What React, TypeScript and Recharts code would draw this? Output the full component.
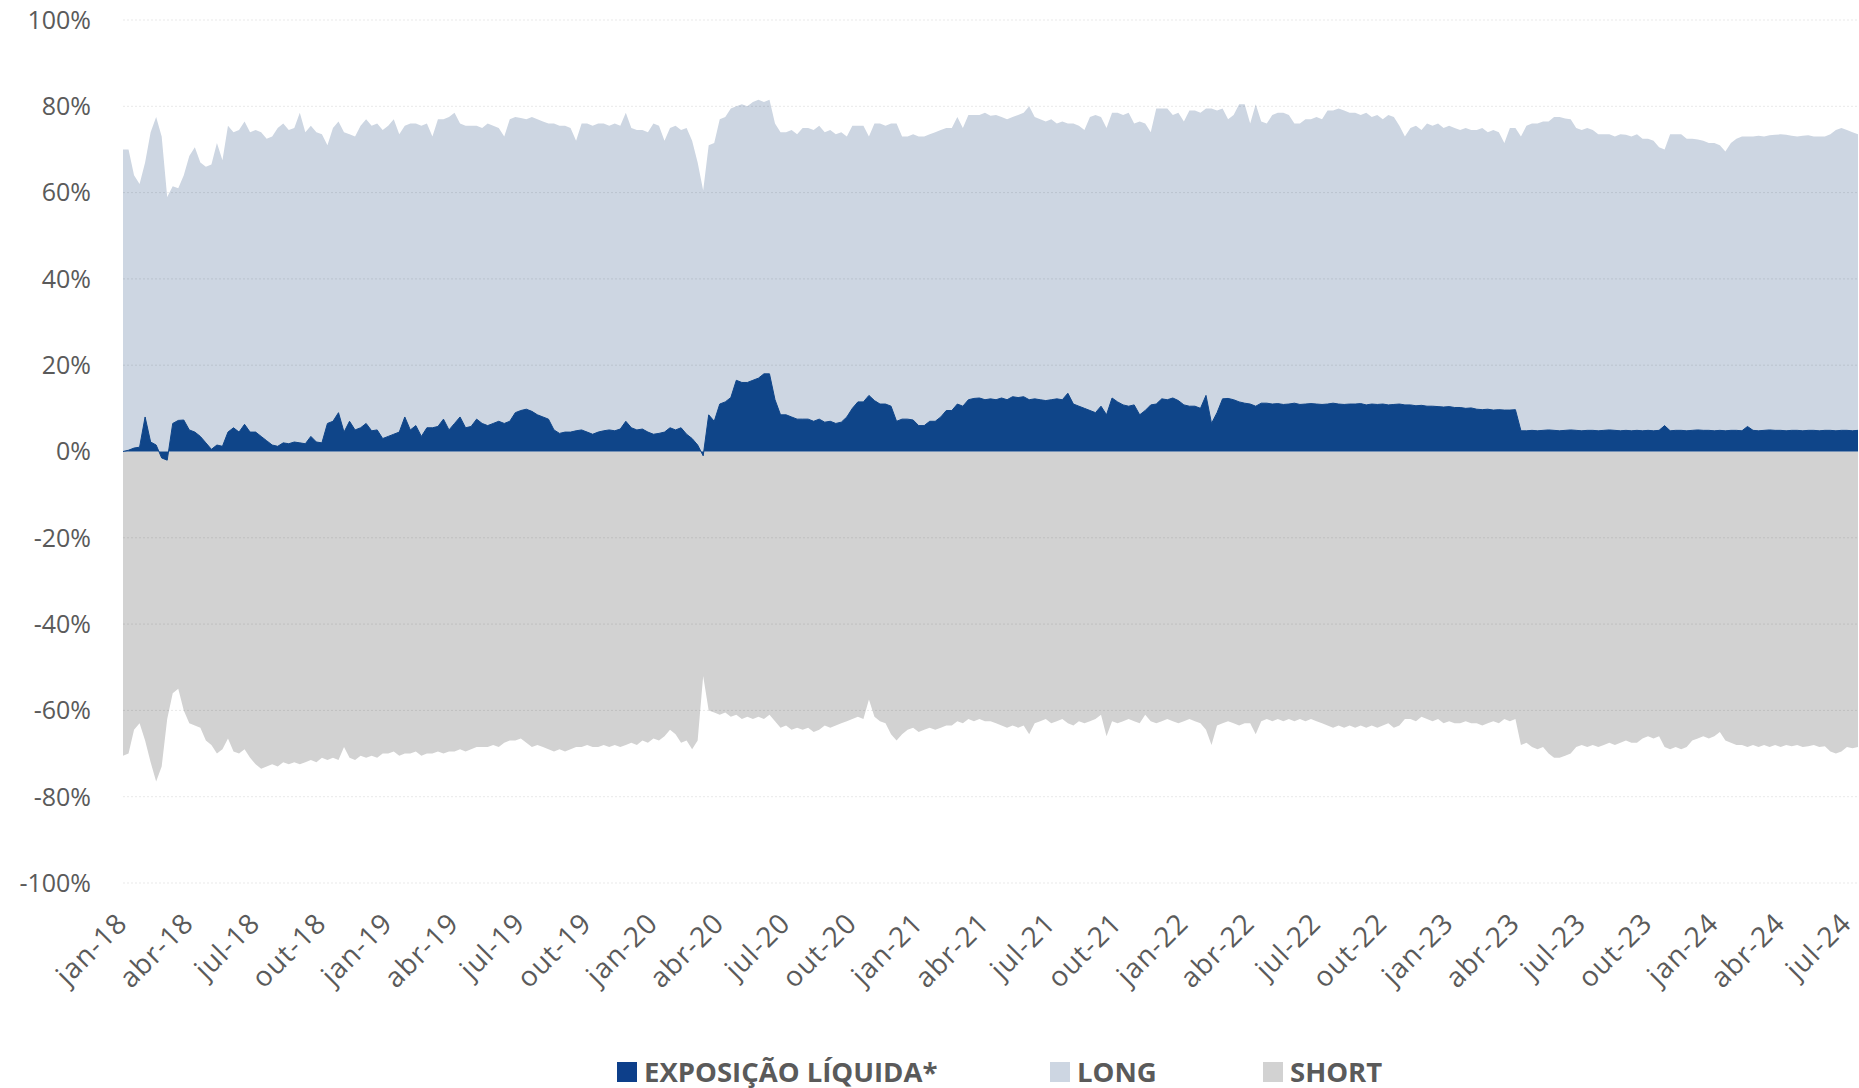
import React from 'react';
import { AreaChart, Area, XAxis, YAxis, ReferenceLine, Legend } from 'recharts';

// Category structure: months x 4 sub-periods (weekly readings)
const MONTHS = ['jan', 'fev', 'mar', 'abr', 'mai', 'jun', 'jul', 'ago', 'set', 'out', 'nov', 'dez'];
const YEARS = ['18', '19', '20', '21', '22', '23', '24'];
const POINTS_PER_MONTH = 4;

const TICK_LABELS = [
  'jan-18', 'abr-18', 'jul-18', 'out-18',
  'jan-19', 'abr-19', 'jul-19', 'out-19',
  'jan-20', 'abr-20', 'jul-20', 'out-20',
  'jan-21', 'abr-21', 'jul-21', 'out-21',
  'jan-22', 'abr-22', 'jul-22', 'out-22',
  'jan-23', 'abr-23', 'jul-23', 'out-23',
  'jan-24', 'abr-24', 'jul-24',
];
const Y_TICKS = [-100, -80, -60, -40, -20, 0, 20, 40, 60, 80, 100];

// LONG (%)
const long2018 = [
  70, 70, 64, 62, 67, 74, 77.5, 73, 59, 61.5, 61, 64,
  68.5, 70.5, 67, 66, 66.5, 71.5, 67.5, 75.5, 74, 74.5, 76.5, 74,
  74.5, 74, 72.5, 73, 75, 76, 74.5, 75, 78.5, 74, 75.5, 74,
  73.5, 71, 75, 76.5, 74, 73.5, 73, 75.5, 77, 75.5, 76, 74.5,
];
const long2019 = [
  75.5, 77, 73.5, 75.5, 76, 76, 75.5, 76, 73, 77, 77, 77.5,
  78.5, 76, 75.5, 75.5, 75.5, 75, 76, 75.5, 75, 73, 77, 77.5,
  77.3, 77, 77.5, 77, 76.5, 76, 76, 75.5, 75.5, 75, 72, 76,
  76, 75.5, 76, 76, 75.5, 76, 75.5, 78.5, 75, 74.5, 74.5, 74,
];
const long2020 = [
  76, 75.5, 72, 75, 75.5, 74.5, 75, 72, 67, 60.5, 71, 71.5,
  77, 77.5, 79.5, 80, 80.5, 80, 81, 81.5, 81, 81.5, 76, 74,
  74, 74.5, 73.5, 75, 75, 74.5, 75.5, 74, 74.5, 73.5, 74, 73,
  75.5, 75.5, 75.5, 73, 76, 76, 75.5, 76, 76, 73, 73, 73.5,
];
const long2021 = [
  73, 73, 73.5, 74, 74.5, 75, 75, 77.5, 75, 78, 78, 78,
  78.5, 77.8, 78, 77.5, 77, 77.5, 78, 78.5, 80, 77.5, 77, 76.5,
  77, 76, 76.5, 76, 76, 75.5, 74.5, 77.5, 78, 77.5, 75, 78.5,
  78.5, 78, 78.5, 76, 76.5, 76, 74, 79.5, 79.5, 79.5, 78, 78.5,
];
const long2022 = [
  76.5, 79, 79, 78.5, 79.5, 79.5, 79, 79.5, 77, 78, 80.5, 80.5,
  76, 80.5, 76.5, 76, 78, 78.5, 78.5, 78, 76, 76, 77, 77,
  77.5, 77, 79, 79, 79.5, 79, 78.5, 78.5, 78, 78.5, 77.5, 78,
  77, 78, 77.5, 75.5, 73, 75, 75.5, 74.5, 76, 75.5, 76, 75,
];
const long2023 = [
  75.5, 75, 74.5, 75, 74.5, 74.5, 75, 74, 74.5, 74, 71.5, 75,
  75, 73, 75.5, 76, 76, 76.5, 76.5, 77.5, 77.5, 77.2, 77, 75,
  74.5, 75, 74.5, 73.5, 73.5, 73.5, 73, 73.5, 73.4, 73, 73.5, 72.5,
  72.5, 72, 70.5, 70, 73.5, 73.5, 73.5, 72.5, 72.5, 72.3, 72, 71.5,
];
const long2024 = [
  71.5, 71, 69.5, 71.5, 72.5, 73, 73, 73, 73.2, 73, 73.3, 73.4,
  73.5, 73.4, 73.2, 73, 73.2, 73.3, 73, 73, 73, 73.5, 74.5, 75,
  74.5, 74, 73.5,
];

// SHORT (%)
const short2018 = [
  -70.5, -70, -64.5, -63, -67, -72, -76.5, -73, -62, -56, -55, -60,
  -63, -63.5, -64, -67, -68, -70, -69, -66.5, -69.5, -70, -69, -71,
  -72.5, -73.5, -73, -72.5, -73, -72, -72.5, -72, -72.5, -72, -71.5, -72,
  -71, -71.5, -71, -71.5, -68.5, -71, -71.5, -70.5, -71, -70.5, -71, -70,
];
const short2019 = [
  -70, -69.5, -70.5, -70, -70, -69.5, -70.5, -70, -70, -69.5, -70, -69.5,
  -69.5, -69, -69.5, -69, -68.5, -68.5, -68.5, -68, -68.5, -67.5, -67, -67,
  -66.5, -67.5, -68.5, -68, -68.5, -69, -69.5, -69, -69.5, -69, -68.5, -68.5,
  -68, -68.5, -68.5, -68, -68.5, -68, -68.5, -68, -67.5, -68, -67, -67.5,
];
const short2020 = [
  -66.5, -67, -66, -64.5, -65.5, -67.5, -67, -69, -67, -52, -60, -60.5,
  -61, -60.5, -61.5, -61, -62, -61.5, -62, -61.5, -62, -61, -62.5, -64,
  -63.5, -64.5, -64, -64.5, -64, -65, -64.5, -63.5, -64, -63.5, -63, -62.5,
  -62, -61.5, -62, -57.5, -61.5, -62.5, -63, -65.5, -67, -65.5, -64.5, -64,
];
const short2021 = [
  -65, -64.5, -64, -64.5, -64, -63.5, -63.5, -62.5, -63, -62, -62.5, -62,
  -62.5, -62.5, -63, -63.5, -64, -63.5, -64, -63.5, -65.5, -63, -62.5, -62,
  -63, -62.5, -62, -63, -63.5, -62.5, -63, -62.5, -62, -61, -66, -62.5,
  -63, -62.5, -62, -62.5, -63, -61, -62.5, -63, -62.5, -62, -62.5, -63,
];
const short2022 = [
  -62.5, -62, -62.5, -63, -64.5, -68, -63.5, -63, -62.5, -63, -63.5, -63,
  -63, -65.5, -62.5, -62, -62.5, -62, -62.5, -62, -62.5, -62, -62.5, -62,
  -62.5, -63, -63.5, -64, -63.5, -64, -63.5, -64, -63.5, -64, -63.5, -64,
  -63.5, -63, -64, -63.5, -62, -62, -62.5, -61.5, -62, -62.5, -62, -63,
];
const short2023 = [
  -62.5, -63, -63, -62.5, -63, -63, -63.5, -63, -62.5, -63, -62, -62.5,
  -62, -68, -67.5, -68.5, -69, -68.5, -70, -71, -71, -70.5, -70, -68.5,
  -68, -68.5, -68, -68.5, -68, -67.5, -68, -67.5, -67, -67.5, -67.5, -66.5,
  -66, -66.5, -66, -68.5, -69, -68.5, -69, -68.5, -67, -66.5, -66, -66.5,
];
const short2024 = [
  -66, -65, -67, -67.5, -68, -68, -68.5, -68, -68.5, -68, -68.5, -68,
  -68.5, -68, -68.3, -68, -68.5, -68.3, -68, -68.5, -68.3, -69.5, -70, -69.5,
  -68.5, -68.8, -68.5,
];

// EXPOSIÇÃO LÍQUIDA (%)
const net2018 = [
  0, 0.3, 0.8, 1, 8, 2.2, 1.5, -1.5, -2, 6.5, 7.2, 7.3,
  5, 4.5, 3.5, 2, 0.5, 1.5, 1.2, 4.5, 5.5, 4.5, 6.3, 4.5,
  4.5, 3.5, 2.5, 1.5, 1.2, 2, 1.8, 2.2, 2, 1.8, 3.5, 2.2,
  2, 6.5, 7, 9, 4.5, 7, 5, 5.5, 6.5, 4.8, 5, 3,
];
const net2019 = [
  3.5, 4, 4.5, 8, 5, 6, 3.5, 5.5, 5.5, 5.8, 7.5, 5,
  6.5, 8, 5.5, 5.8, 7.5, 6.5, 6, 6.5, 7, 6.5, 7, 9,
  9.5, 9.8, 9.3, 8.5, 8, 7.5, 5, 4.2, 4.5, 4.5, 4.8, 5,
  4.5, 4, 4.5, 4.8, 5, 4.8, 5.2, 7, 5.5, 5, 5.2, 4.5,
];
const net2020 = [
  4, 4.2, 4.5, 5.5, 5, 5.5, 4, 3, 1.5, -1, 8.5, 7,
  11, 11.5, 12.5, 16.5, 16, 16, 16.5, 17, 18, 18, 12, 8.5,
  8.5, 8, 7.5, 7.5, 7.5, 7, 7.5, 6.8, 7, 6.5, 6.8, 8,
  10, 11.5, 11.5, 13, 11.8, 11, 11, 10.5, 7, 7.5, 7.5, 7.3,
];
const net2021 = [
  6, 6, 7, 7, 8, 9.5, 9.5, 11, 10.5, 12, 12.3, 12.4,
  12, 12.2, 12, 12.4, 12, 12.7, 12.5, 12.7, 12, 12.2, 12, 11.8,
  12, 12.2, 12, 13.5, 11, 10.5, 10, 9.5, 9, 10.5, 8.5, 12.4,
  11.5, 10.8, 10.5, 10.8, 8.5, 9.5, 10.8, 11, 12.2, 12, 12.4, 11.8,
];
const net2022 = [
  10.8, 10.5, 10.5, 10, 13, 6.5, 9, 12.2, 12.3, 12, 11.5, 11.2,
  11, 10.5, 11.2, 11.2, 11, 11.1, 10.9, 11, 11.2, 10.9, 11, 11.1,
  11, 10.9, 11, 11.2, 11, 10.9, 11, 11, 11.1, 10.8, 11, 10.9,
  11, 10.8, 10.9, 11, 10.8, 10.8, 10.6, 10.7, 10.5, 10.5, 10.4, 10.3,
];
const net2023 = [
  10.4, 10.2, 10.2, 10, 10.1, 9.8, 9.7, 9.8, 9.6, 9.7, 9.6, 9.6,
  9.7, 4.8, 4.8, 4.9, 4.8, 4.9, 5, 4.9, 4.8, 4.9, 5, 4.9,
  4.8, 4.9, 4.9, 4.8, 4.9, 5, 4.9, 4.8, 4.9, 4.8, 4.9, 4.8,
  4.9, 4.8, 4.9, 6, 4.8, 4.9, 4.9, 4.8, 4.9, 5, 4.9, 4.9,
];
const net2024 = [
  4.8, 4.9, 4.8, 4.9, 4.9, 4.8, 5.8, 4.9, 4.8, 4.9, 5, 4.9,
  4.9, 4.8, 4.9, 4.9, 4.8, 4.9, 4.9, 4.8, 4.9, 4.9, 4.8, 4.9,
  4.9, 4.8, 4.9,
];

const LONG = [...long2018, ...long2019, ...long2020, ...long2021, ...long2022, ...long2023, ...long2024];
const SHORT = [...short2018, ...short2019, ...short2020, ...short2021, ...short2022, ...short2023, ...short2024];
const NET = [...net2018, ...net2019, ...net2020, ...net2021, ...net2022, ...net2023, ...net2024];

const CATEGORIES: string[] = [];
YEARS.forEach((y) => {
  MONTHS.forEach((m) => {
    for (let w = 0; w < POINTS_PER_MONTH; w++) CATEGORIES.push(`${m}-${y}|${w}`);
  });
});

const data = LONG.map((v, i) => ({
  key: CATEGORIES[i],
  long: v,
  short: SHORT[i],
  net: NET[i],
}));

const COLORS = {
  net: '#0f4589',
  netLegend: '#0d3f8a',
  long: '#cdd6e2',
  short: '#d2d2d2',
  text: '#5a5a5a',
};

const LEGEND_ITEMS = [
  { label: 'EXPOSIÇÃO LÍQUIDA*', color: COLORS.netLegend },
  { label: 'LONG', color: COLORS.long },
  { label: 'SHORT', color: COLORS.short },
];
const LEGEND_WIDTHS = [433, 213, 200];

const renderLegend = () => (
  <div
    style={{
      height: 48,
      paddingLeft: 617,
      display: 'flex',
      alignItems: 'flex-start',
      boxSizing: 'border-box',
      paddingTop: 22,
    }}
  >
    {LEGEND_ITEMS.map((it, idx) => (
      <div
        key={it.label}
        style={{ width: LEGEND_WIDTHS[idx], display: 'flex', alignItems: 'center', height: 20 }}
      >
        <span style={{ width: 20, height: 20, background: it.color, display: 'inline-block', marginRight: 7 }} />
        <span
          style={{
            fontFamily: '"Open Sans", sans-serif',
            fontWeight: 700,
            fontSize: 27.5,
            lineHeight: '20px',
            color: COLORS.text,
            whiteSpace: 'nowrap',
          }}
        >
          {it.label}
        </span>
      </div>
    ))}
  </div>
);

export default function App() {
  return (
    <div style={{ position: 'absolute', left: 0, top: 0, width: 1859, height: 1088, background: '#fff' }}>
      <AreaChart width={1859} height={1088} data={data} margin={{ top: 20, right: 1, bottom: 0, left: 0 }}>
        <XAxis
          dataKey="key"
          ticks={TICK_LABELS.map((l) => `${l}|0`)}
          interval={0}
          tickFormatter={(v: string) => String(v).split('|')[0]}
          angle={-45}
          textAnchor="end"
          height={157}
          axisLine={false}
          tickLine={false}
          tickSize={0}
          tickMargin={28}
          dx={-8}
          tick={{ fill: COLORS.text, fontSize: 28, letterSpacing: 1, fontFamily: '"Open Sans", sans-serif' }}
        />
        <YAxis
          width={123}
          domain={[-100, 100]}
          ticks={Y_TICKS}
          interval={0}
          tickFormatter={(v: number) => `${v}%`}
          axisLine={false}
          tickLine={false}
          tickSize={0}
          tickMargin={32}
          tick={{ fill: COLORS.text, fontSize: 25, fontFamily: '"Open Sans", sans-serif' }}
        />
        <Area
          type="linear"
          dataKey="long"
          baseValue={0}
          fill={COLORS.long}
          fillOpacity={1}
          stroke="none"
          isAnimationActive={false}
          dot={false}
          activeDot={false}
        />
        <Area
          type="linear"
          dataKey="short"
          baseValue={0}
          fill={COLORS.short}
          fillOpacity={1}
          stroke="none"
          isAnimationActive={false}
          dot={false}
          activeDot={false}
        />
        <Area
          type="linear"
          dataKey="net"
          baseValue={0}
          fill={COLORS.net}
          fillOpacity={1}
          stroke={COLORS.net}
          strokeWidth={1}
          isAnimationActive={false}
          dot={false}
          activeDot={false}
        />
        {Y_TICKS.filter((v) => v !== 0).map((v) => (
          <ReferenceLine
            key={v}
            y={v}
            stroke="rgba(0,0,0,0.09)"
            strokeDasharray="2 2"
            strokeWidth={1}
            ifOverflow="extendDomain"
          />
        ))}
        <Legend verticalAlign="bottom" align="left" content={renderLegend} wrapperStyle={{ left: 0, width: 1859 }} />
      </AreaChart>
    </div>
  );
}
